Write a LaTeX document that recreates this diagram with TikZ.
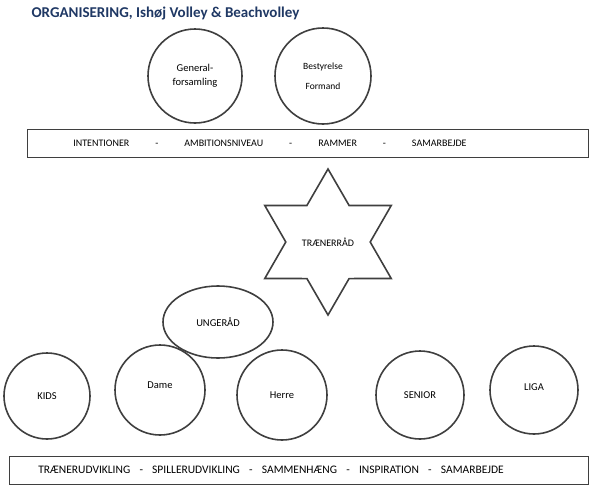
\documentclass[tikz,border=0pt]{standalone}
\usepackage{fontspec}
\setmainfont{Carlito}
\usetikzlibrary{shapes.geometric}
\definecolor{ln}{HTML}{3F3F3F}
\definecolor{ttl}{HTML}{1F3864}
\begin{document}
\begin{tikzpicture}[x=1pt,y=-1pt,
  circ/.style={circle,draw=ln,line width=1.6pt,minimum size=#1,inner sep=0pt,font=\fontsize{10.5}{12}\selectfont,align=center},
  band/.style={draw=ln,line width=0.8pt},
  lbl/.style={font=\fontsize{10.5}{12}\selectfont,align=center}]
\useasboundingbox (0,0) rectangle (600,496);
\node[font=\bfseries\fontsize{15}{17}\selectfont,text=ttl,anchor=west] (title) at (28,14) {ORGANISERING, Ishøj Volley \& Beachvolley};
\node[circ=94pt] (gen) at (195,76) {General-\\[2pt]forsamling};
\node[circ=96pt] (bes) at (323,76) {\fontsize{9.5}{11}\selectfont Bestyrelse\\[8pt]\fontsize{9.5}{11}\selectfont Formand};
\draw[band] (27,129) rectangle (588,157);
\node[lbl,font=\fontsize{10}{12}\selectfont] (t1) at (270,143) {INTENTIONER\hspace{2.6em}-\hspace{2.6em}AMBITIONSNIVEAU\hspace{2.6em}-\hspace{2.6em}RAMMER\hspace{2.6em}-\hspace{2.6em}SAMARBEJDE};
\node[star,star points=6,star point ratio=1.73,draw=ln,line width=1.6pt,minimum size=146pt,inner sep=0pt] (star) at (328,242) {};
\node[lbl,font=\fontsize{10}{12}\selectfont] at (328,242) {TRÆNERRÅD};
\node[ellipse,draw=ln,line width=1.6pt,minimum width=110pt,minimum height=72pt,lbl] (ung) at (218,322) {UNGERÅD};
\node[circ=86pt] (kids) at (47,396) {KIDS};
\node[circ=90pt] (dame) at (160,390) {\raisebox{10pt}{Dame}};
\node[circ=90pt] (herre) at (282,395) {Herre};
\node[circ=88pt] (sen) at (420,395) {SENIOR};
\node[circ=88pt] (liga) at (534,390) {\raisebox{6pt}{LIGA}};
\draw[band] (9,456) rectangle (588,484);
\node[lbl,font=\fontsize{11.5}{13}\selectfont] (t2) at (271,470) {TRÆNERUDVIKLING\hspace{0.8em}-\hspace{0.8em}SPILLERUDVIKLING\hspace{0.8em}-\hspace{0.8em}SAMMENHÆNG\hspace{0.8em}-\hspace{0.8em}INSPIRATION\hspace{0.8em}-\hspace{0.8em}SAMARBEJDE};
\end{tikzpicture}
\end{document}
